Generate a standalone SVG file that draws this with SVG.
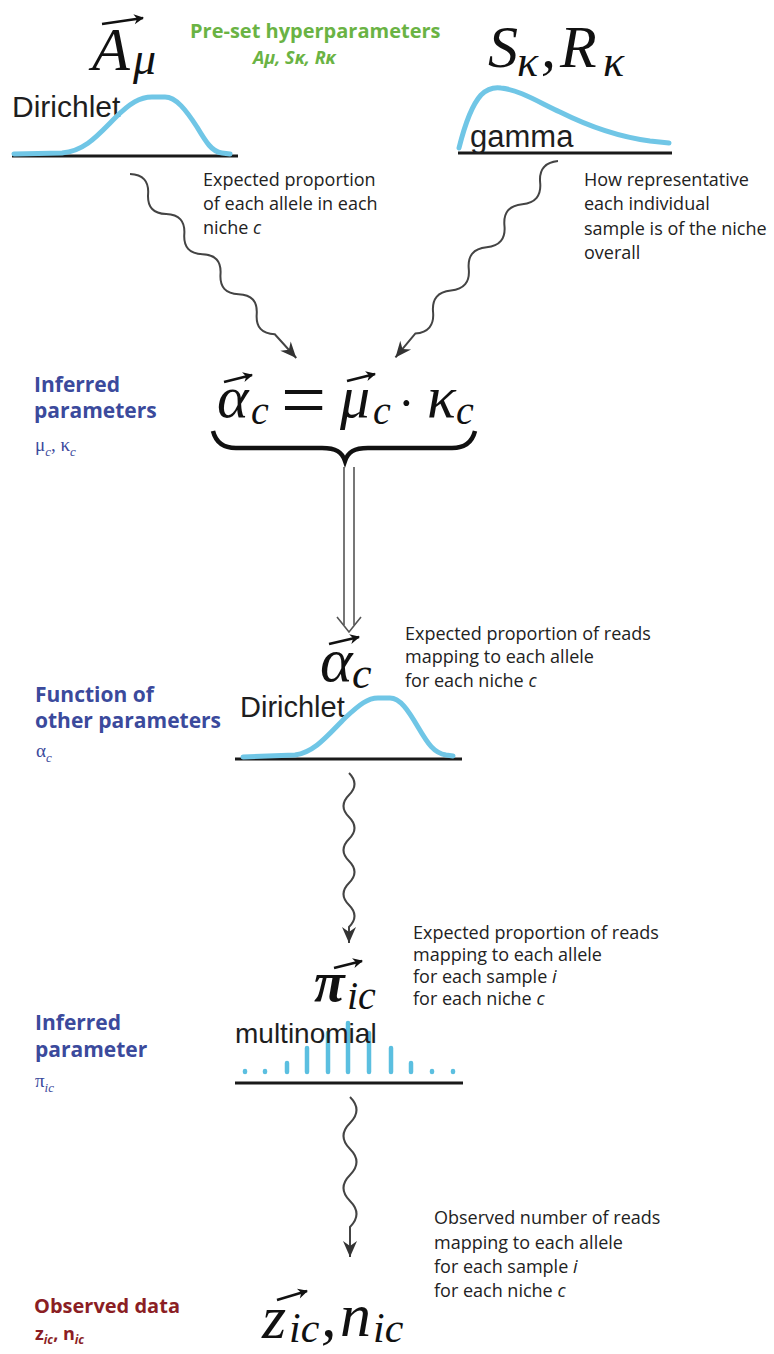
<svg xmlns="http://www.w3.org/2000/svg" width="774" height="1354" viewBox="0 0 774 1354">
<style>
.math{font-family:"Liberation Serif","DejaVu Serif",serif;font-style:italic;fill:#111}
.up{font-style:normal}
.dist{font-family:"Liberation Sans",Arial,sans-serif;fill:#1e1e1e}
.note{font-family:"Open Sans","Liberation Sans",sans-serif;font-size:18px;fill:#222}
.blue{font-family:"Open Sans","Liberation Sans",sans-serif;font-weight:700;font-size:21px;fill:#3b4a9c}
.bsym{font-family:"Liberation Serif","DejaVu Serif",serif;font-size:19px;fill:#3b4a9c}
.green{font-family:"Open Sans","Liberation Sans",sans-serif;font-weight:700;fill:#6ab344}
.red{font-family:"Open Sans","Liberation Sans",sans-serif;font-weight:700;fill:#8b1e24}
.axis{stroke:#1a1a1a;stroke-width:3;fill:none}
.curve{fill:none;stroke:#70c6e6;stroke-width:5;stroke-linecap:round;stroke-linejoin:round}
.bar{stroke:#5bbfe0;stroke-width:4.5;stroke-linecap:round}
.wave{fill:none;stroke:#444;stroke-width:2;marker-end:url(#ah)}
.vec{stroke:#111;stroke-width:2.5;marker-end:url(#vh)}
</style>
<defs>
<marker id="ah" viewBox="-18 -9 20 18" markerWidth="20" markerHeight="18" refX="0" refY="0" orient="auto" markerUnits="userSpaceOnUse">
<path d="M0,0 L-16,-7 L-11,0 L-16,7 Z" fill="#333"/>
</marker>
<marker id="vh" viewBox="-12 -7 14 14" markerWidth="14" markerHeight="14" refX="0" refY="0" orient="auto" markerUnits="userSpaceOnUse">
<path d="M1,0 L-9,-5 L-6,0 L-9,5 Z" fill="#111"/>
</marker>
</defs>

<g id="header">
<text class="green" x="190" y="38" font-size="20">Pre-set hyperparameters</text>
<text class="green" x="253" y="64" font-size="18" font-style="italic">Aμ, Sκ, Rκ</text>
</g>

<g id="node-A-mu">
<text class="math" font-size="62"><tspan x="92" y="70">A</tspan><tspan x="133" y="74" font-size="46">μ</tspan></text>
<line class="vec" x1="102" y1="24" x2="143" y2="18"/>
<text class="dist" x="12" y="117" font-size="30">Dirichlet</text>
<line class="axis" x1="12" y1="156" x2="238" y2="156"/>
<path class="curve" d="M14,154 L62,153 C85,151 98,135 115,118 C130,103 140,97 152,97 L165,97 C176,97 186,110 197,127 C206,142 212,152 222,153 L230,154"/>
</g>

<g id="node-S-R">
<text class="math" font-size="60"><tspan x="488" y="67">S</tspan><tspan x="517" y="76" font-size="44">κ</tspan><tspan x="541" y="67">,</tspan><tspan x="560" y="67">R</tspan><tspan x="603" y="76" font-size="44">κ</tspan></text>
<line class="axis" x1="458" y1="153" x2="672" y2="153"/>
<path class="curve" d="M459,148 C464,128 471,106 481,95 C488,88 494,87 501,88 C520,90 540,103 560,112 C590,127 620,137 650,141 L669,143"/>
<text class="dist" x="470" y="147" font-size="31">gamma</text>
</g>

<g id="note-mu">
<text class="note"><tspan x="203" y="186">Expected proportion</tspan><tspan x="203" y="210">of each allele in each</tspan><tspan x="203" y="234">niche <tspan font-style="italic">c</tspan></tspan></text>
</g>
<g id="note-kappa">
<text class="note"><tspan x="584" y="186">How representative</tspan><tspan x="584" y="210">each individual</tspan><tspan x="584" y="235">sample is of the niche</tspan><tspan x="584" y="259">overall</tspan></text>
</g>

<g id="label-inferred-params">
<text class="blue"><tspan x="34" y="392">Inferred</tspan><tspan x="34" y="418">parameters</tspan></text>
<text class="bsym"><tspan x="35" y="451">μ</tspan><tspan dy="5" font-size="13" font-style="italic">c</tspan><tspan dy="-5">, κ</tspan><tspan dy="5" font-size="13" font-style="italic">c</tspan></text>
</g>

<g id="node-equation">
<text class="math" font-size="60"><tspan x="217" y="417">α</tspan><tspan x="251" y="424" font-size="40">c</tspan><tspan x="340" y="417">μ</tspan><tspan x="373" y="424" font-size="40">c</tspan><tspan x="427" y="417">κ</tspan><tspan x="456" y="424" font-size="40">c</tspan></text>
<text class="math up" x="281" y="427" font-size="80">=</text>
<text class="math up" x="398" y="420" font-size="50">·</text>
<line class="vec" x1="224" y1="382" x2="252" y2="375"/>
<line class="vec" x1="347" y1="381" x2="375" y2="374"/>
<path d="M213,431 C216,443 224,448 236,448 L322,448 C336,448 342,452 345,461 C348,452 354,448 368,448 L452,448 C464,448 472,443 475,431" fill="none" stroke="#111" stroke-width="4.5"/>
</g>

<g id="label-function">
<text class="blue"><tspan x="35" y="702">Function of</tspan><tspan x="35" y="728">other parameters</tspan></text>
<text class="bsym"><tspan x="36" y="757">α</tspan><tspan dy="5" font-size="13" font-style="italic">c</tspan></text>
</g>

<g id="node-alpha">
<text class="math" font-size="62"><tspan x="320" y="681">α</tspan><tspan x="352" y="688" font-size="44">c</tspan></text>
<line class="vec" x1="329" y1="644" x2="359" y2="637"/>
<text class="dist" x="240" y="717" font-size="29">Dirichlet</text>
<line class="axis" x1="235" y1="759" x2="462" y2="759"/>
<path class="curve" d="M243,757 L295,755 C315,752 328,735 345,718 C360,704 368,698 378,698 L390,698 C400,698 408,710 418,727 C428,744 434,753 446,755 L453,756"/>
</g>

<g id="note-alpha">
<text class="note"><tspan x="405" y="640">Expected proportion of reads</tspan><tspan x="405" y="663">mapping to each allele</tspan><tspan x="405" y="687">for each niche <tspan font-style="italic">c</tspan></tspan></text>
</g>

<g id="label-inferred-param">
<text class="blue"><tspan x="35" y="1030">Inferred</tspan><tspan x="35" y="1057">parameter</tspan></text>
<text class="bsym"><tspan x="35" y="1087">π</tspan><tspan dy="5" font-size="13" font-style="italic">ic</tspan></text>
</g>

<g id="node-pi">
<text class="math" font-size="56" font-weight="bold"><tspan x="314" y="1001">π</tspan><tspan x="347" y="1009" font-size="40" font-weight="normal">ic</tspan></text>
<line class="vec" x1="334" y1="968" x2="362" y2="961"/>
<line class="bar" x1="245" y1="1071" x2="245" y2="1072"/>
<line class="bar" x1="265" y1="1071" x2="265" y2="1072"/>
<line class="bar" x1="287" y1="1063" x2="287" y2="1072"/>
<line class="bar" x1="307" y1="1048" x2="307" y2="1072"/>
<line class="bar" x1="328" y1="1033" x2="328" y2="1072"/>
<line class="bar" x1="348" y1="1023" x2="348" y2="1072"/>
<line class="bar" x1="369" y1="1033" x2="369" y2="1072"/>
<line class="bar" x1="391" y1="1048" x2="391" y2="1072"/>
<line class="bar" x1="411" y1="1063" x2="411" y2="1072"/>
<line class="bar" x1="432" y1="1071" x2="432" y2="1072"/>
<line class="bar" x1="453" y1="1071" x2="453" y2="1072"/>
<text class="dist" x="235" y="1043" font-size="28">multinomial</text>
<line class="axis" x1="235" y1="1083" x2="463" y2="1083" stroke="#333" stroke-width="2.5"/>
</g>

<g id="note-pi">
<text class="note"><tspan x="413" y="939">Expected proportion of reads</tspan><tspan x="413" y="961">mapping to each allele</tspan><tspan x="413" y="983">for each sample <tspan font-style="italic">i</tspan></tspan><tspan x="413" y="1005">for each niche <tspan font-style="italic">c</tspan></tspan></text>
</g>

<g id="label-observed">
<text class="red" x="34" y="1313" font-size="20">Observed data</text>
<text class="red" font-size="18"><tspan x="35" y="1340">z</tspan><tspan dy="4" font-size="12" font-style="italic">ic</tspan><tspan dy="-4">, n</tspan><tspan dy="4" font-size="12" font-style="italic">ic</tspan></text>
</g>

<g id="node-z-n">
<text class="math" font-size="62"><tspan x="262" y="1338">z</tspan><tspan x="289" y="1342" font-size="42">ic</tspan><tspan x="321" y="1336">,</tspan><tspan x="340" y="1336">n</tspan><tspan x="373" y="1342" font-size="42">ic</tspan></text>
<line class="vec" x1="277" y1="1300" x2="307" y2="1291"/>
</g>

<g id="note-z">
<text class="note"><tspan x="434" y="1224">Observed number of reads</tspan><tspan x="434" y="1249">mapping to each allele</tspan><tspan x="434" y="1273">for each sample <tspan font-style="italic">i</tspan></tspan><tspan x="434" y="1297">for each niche <tspan font-style="italic">c</tspan></tspan></text>
</g>

<g id="connectors">
<g transform="translate(130,174) rotate(47.9)">
<path class="wave" d="M0,0 q13.5,-14 27,0 t27,0 t27,0 t27,0 t27,0 t27,0 t27,0 t27,0 l32,0"/>
</g>
<g transform="translate(558,161) rotate(129.6)">
<path class="wave" d="M0,0 q14,14 28,0 t28,0 t28,0 t28,0 t28,0 t28,0 t28,0 t28,0 l31,0"/>
</g>
<g id="double-arrow" fill="none" stroke="#555" stroke-width="1.6">
<line x1="344" y1="467" x2="344" y2="625"/>
<line x1="354" y1="467" x2="354" y2="625"/>
<polyline points="337,617 349,632 361,617"/>
</g>
<path class="wave" d="M349,773 q11,11 0,22 t0,22 t0,22 t0,22 t0,22 t0,22 t0,22 l0,16"/>
<path class="wave" d="M350,1097 q13,13 0,26 t0,26 t0,26 t0,26 t0,26 l0,30"/>
</g>
</svg>
